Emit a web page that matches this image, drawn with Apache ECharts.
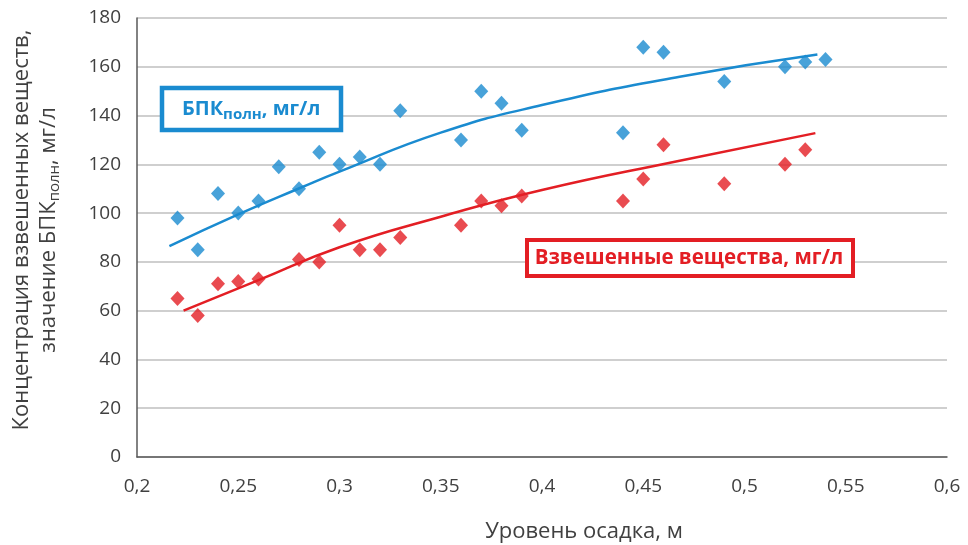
<!DOCTYPE html>
<html><head><meta charset="utf-8">
<script src="https://cdn.jsdelivr.net/npm/echarts@6/dist/echarts.min.js"></script>
<style>html,body{margin:0;padding:0;background:#fff}#c{width:968px;height:545px}</style>
</head><body><div id="c"></div>
<script>
// Data
const bpkX = [0.22,0.23,0.24,0.25,0.26,0.27,0.28,0.29,0.30,0.31,0.32,0.33,0.36,0.37,0.38,0.39,0.44,0.45,0.46,0.49,0.52,0.53,0.54];
const bpkY = [98,85,108,100,105,119,110,125,120,123,120,142,130,150,145,134,133,168,166,154,160,162,163];
const ssX = [0.22,0.23,0.24,0.25,0.26,0.28,0.29,0.30,0.31,0.32,0.33,0.36,0.37,0.38,0.39,0.44,0.45,0.46,0.49,0.52,0.53];
const ssY = [65,58,71,72,73,81,80,95,85,85,90,95,105,103,107,105,114,128,112,120,126];
// Trend lines
const bpkTrendX = [0.216,0.25,0.2805,0.30,0.35,0.40,0.468,0.536];
const bpkTrendY = [86.5,99.5,110.3,117,133,144.3,155.9,165];
const ssTrendX = [0.223,0.26,0.30,0.35,0.40,0.468,0.535];
const ssTrendY = [60,72.5,86,98.5,109.5,121.5,132.8];
const xTicks = [0.2,0.25,0.3,0.35,0.4,0.45,0.5,0.55,0.6];
const yTicks = [0,20,40,60,80,100,120,140,160,180];

const BLUE = '#1A8BD0', RED = '#E31E24';
const FONT = '"Open Sans", sans-serif';
const zip = (a,b)=>a.map((v,i)=>[v,b[i]]);

const chart = echarts.init(document.getElementById('c'), null, {renderer:'canvas'});
chart.setOption({
  animation:false,
  grid:{left:137,right:21,top:18,bottom:88},
  xAxis:{type:'value',min:0.2,max:0.6,interval:0.05,
    axisLine:{show:true,lineStyle:{color:'#595959',width:1.5}},
    axisTick:{show:false},splitLine:{show:false},
    axisLabel:{margin:20,fontSize:19,color:'#404040',fontFamily:FONT,
      formatter:v=>{const t=xTicks.find(x=>Math.abs(x-v)<1e-9);return t===undefined?'':String(t).replace('.',',');}}},
  yAxis:{type:'value',min:0,max:180,interval:20,
    axisLine:{show:true,lineStyle:{color:'#595959',width:1.5}},
    axisTick:{show:false},
    splitLine:{show:true,lineStyle:{color:'#BFBFBF',width:1.5}},
    axisLabel:{margin:16,fontSize:19,color:'#404040',fontFamily:FONT,
      formatter:v=>yTicks.includes(v)?String(v):''}},
  series:[
    {type:'line',data:zip(bpkTrendX,bpkTrendY),smooth:true,showSymbol:false,lineStyle:{color:BLUE,width:2.5},z:2},
    {type:'line',data:zip(ssTrendX,ssTrendY),smooth:true,showSymbol:false,lineStyle:{color:RED,width:2.5},z:2},
    {type:'scatter',data:zip(bpkX,bpkY),symbol:'diamond',symbolSize:[14,15],itemStyle:{color:BLUE},z:3},
    {type:'scatter',data:zip(ssX,ssY),symbol:'diamond',symbolSize:[14,15],itemStyle:{color:RED},z:3}
  ],
  graphic:[
    {type:'text',x:584,y:532,style:{text:'Уровень осадка, м',font:'22px '+FONT,fill:'#404040',align:'center',verticalAlign:'middle'}},
    {type:'text',x:35,y:230,rotation:Math.PI/2,
      style:{text:'Концентрация взвешенных веществ,\n{n|значение БПК}{s|полн}{n|, мг/л}',font:'22px '+FONT,fill:'#404040',
        align:'center',verticalAlign:'middle',lineHeight:27,
        rich:{n:{fontSize:22,fontFamily:FONT,fill:'#404040'},s:{fontSize:15,fontFamily:FONT,fill:'#404040',padding:[12,0,0,0]}}}},
    {type:'rect',shape:{x:162,y:88,width:179,height:42},style:{fill:'#fff',stroke:BLUE,lineWidth:4.5},z:10},
    {type:'text',x:182,y:109,z:11,style:{text:'{b|БПК}{s|полн}{b|, мг/л}',verticalAlign:'middle',
      rich:{b:{fontSize:20,fontWeight:'bold',fontFamily:FONT,fill:BLUE},s:{fontSize:15,fontWeight:'bold',fontFamily:FONT,fill:BLUE,padding:[12,0,0,0]}}}},
    {type:'rect',shape:{x:527,y:240,width:326,height:36},style:{fill:'#fff',stroke:RED,lineWidth:4},z:10},
    {type:'text',x:689,y:258,z:11,style:{text:'Взвешенные вещества, мг/л',font:'bold 20.5px '+FONT,fill:RED,align:'center',verticalAlign:'middle'}}
  ]
});
</script></body></html>
